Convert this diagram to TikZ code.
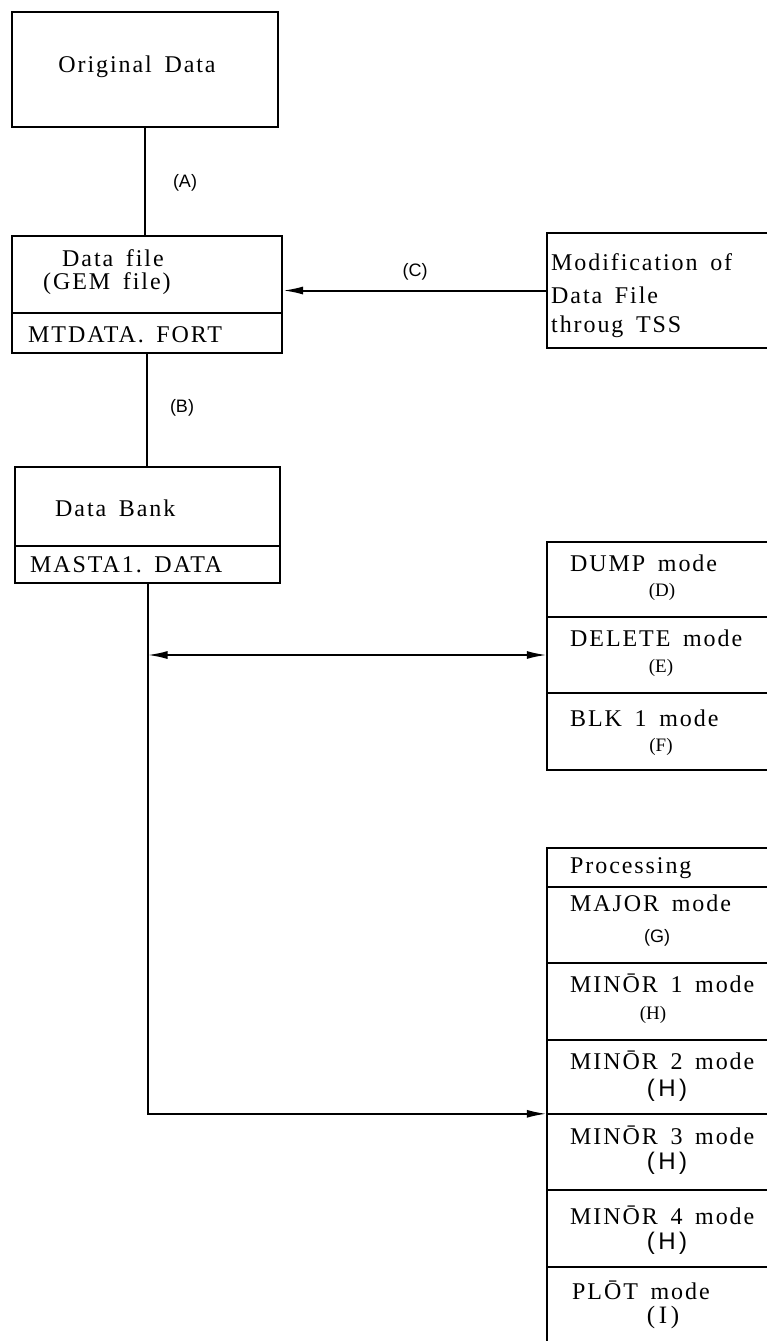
\documentclass[tikz,border=0pt]{standalone}
\usepackage{fontspec}
\usetikzlibrary{arrows.meta}
\newfontfamily\twfont{Liberation Serif}[LetterSpace=8,WordSpace=1.6]
\newfontfamily\lblfont{Liberation Sans}
\newfontfamily\bigsans{Liberation Sans}[LetterSpace=15]
\newfontfamily\bigserif{Liberation Serif}[LetterSpace=15]
\newfontfamily\smserif{Liberation Serif}
\tikzset{
  bx/.style={draw, line width=2pt, inner sep=0pt},
  cell/.style={inner sep=0pt, minimum width=220pt},
  border/.style={line width=2pt},
  conn/.style={line width=2pt},
  tip/.style={-{Latex[length=20pt,width=8pt]}},
  txt/.style={inner sep=0pt, anchor=west, font=\twfont\fontsize{24}{28}\selectfont},
  ctxt/.style={inner sep=0pt, font=\twfont\fontsize{24}{28}\selectfont},
  lbl/.style={inner sep=0pt, font=\lblfont\fontsize{18}{20}\selectfont},
  slbl/.style={inner sep=0pt, font=\smserif\fontsize{19}{22}\selectfont},
  big/.style={inner sep=0pt, font=\bigsans\fontsize{24}{28}\selectfont},
  bigs/.style={inner sep=0pt, font=\bigserif\fontsize{25}{28}\selectfont},
}
\begin{document}
\begin{tikzpicture}[x=1pt,y=-1pt]
\useasboundingbox (0,0) rectangle (767,1341);
\fill[white] (0,0) rectangle (767,1341);

% left column boxes
\node[bx, minimum width=266pt, minimum height=115pt] (orig) at (145,69.5) {};
\node[ctxt] (origt) at (137,67) {Original Data};

\node[bx, minimum width=270pt, minimum height=77pt] (dfile) at (147,274.5) {};
\node[bx, minimum width=270pt, minimum height=40pt] (mtdata) at (147,333) {};
\node[txt] (dfilet1) at (62,258) {Data file};
\node[txt] (dfilet2) at (43,284) {(GEM file)};
\node[txt] (mtdatat) at (28,335) {MTDATA.\ FORT};

\node[bx, minimum width=265pt, minimum height=79pt] (bank) at (147.5,506.5) {};
\node[bx, minimum width=265pt, minimum height=37pt] (masta) at (147.5,564.5) {};
\node[txt] (bankt) at (55,508) {Data Bank};
\node[txt] (mastat) at (30,565) {MASTA1.\ DATA};

% modification box
\node[cell, minimum height=115pt] (mod) at (657,290.5) {};
\draw[border] (mod.north east) -- (mod.north west) -- (mod.south west) -- (mod.south east);
\node[txt] (modt1) at (551,262) {Modification of};
\node[txt] (modt2) at (551,295) {Data File};
\node[txt] (modt3) at (551,327) {throug TSS};

% DUMP / DELETE / BLK group
\node[cell, minimum height=75pt] (dump) at (657,579.5) {};
\node[cell, minimum height=76pt] (del) at (657,655) {};
\node[cell, minimum height=77pt] (blk) at (657,731.5) {};
\draw[border] (dump.north east) -- (dump.north west) -- (blk.south west) -- (blk.south east);
\draw[border] (del.north west) -- (del.north east);
\draw[border] (blk.north west) -- (blk.north east);
\node[txt] (dumpt) at (570,563) {DUMP mode};
\node[slbl] (dumpl) at (662,592) {(D)};
\node[txt] (delt) at (570,638) {DELETE mode};
\node[slbl] (dell) at (661,668) {(E)};
\node[txt] (blkt) at (570,718) {BLK 1 mode};
\node[slbl] (blkl) at (661,747) {(F)};

% processing group
\node[cell, minimum height=39pt] (proc) at (657,867.5) {};
\node[cell, minimum height=76pt] (major) at (657,925) {};
\node[cell, minimum height=77pt] (m1) at (657,1001.5) {};
\node[cell, minimum height=74pt] (m2) at (657,1077) {};
\node[cell, minimum height=76pt] (m3) at (657,1152) {};
\node[cell, minimum height=77pt] (m4) at (657,1228.5) {};
\node[cell, minimum height=74pt] (plot) at (657,1304) {};
\draw[border] (proc.north east) -- (proc.north west) -- (plot.south west);
\foreach \c in {major,m1,m2,m3,m4,plot}{
  \draw[border] (\c.north west) -- (\c.north east);
}
\node[txt] (proct) at (570,868) {Processing};
\node[txt] (majort) at (570,903) {MAJOR mode};
\node[lbl] (majorl) at (657,938) {(G)};
\node[txt] (m1t) at (570,983) {MIN\={O}R 1 mode};
\node[slbl] (m1l) at (653,1015) {(H)};
\node[txt] (m2t) at (570,1060) {MIN\={O}R 2 mode};
\node[big] (m2l) at (667,1090) {(H)};
\node[txt] (m3t) at (570,1135) {MIN\={O}R 3 mode};
\node[big] (m3l) at (667,1163) {(H)};
\node[txt] (m4t) at (570,1215) {MIN\={O}R 4 mode};
\node[big] (m4l) at (667,1243) {(H)};
\node[txt] (plott) at (572,1290) {PL\={O}T mode};
\node[bigs] (plotl) at (663,1317) {(I)};

% connectors
\draw[conn] (orig.south) -- (orig.south |- dfile.north);
\node[lbl] (la) at (185,183) {(A)};
\draw[conn] (mtdata.south) -- (mtdata.south |- bank.north);
\node[lbl] (lb) at (182,408) {(B)};
\draw[conn, tip] (mod.west) -- (mod.west -| dfile.east);
\node[lbl] (lc) at (415,272) {(C)};
\draw[conn, {Latex[length=20pt,width=8pt]}-{Latex[length=20pt,width=8pt]}] (masta.south |- del.west) -- (del.west);
\draw[conn, tip] (masta.south) |- (m3.north west);
\end{tikzpicture}
\end{document}
